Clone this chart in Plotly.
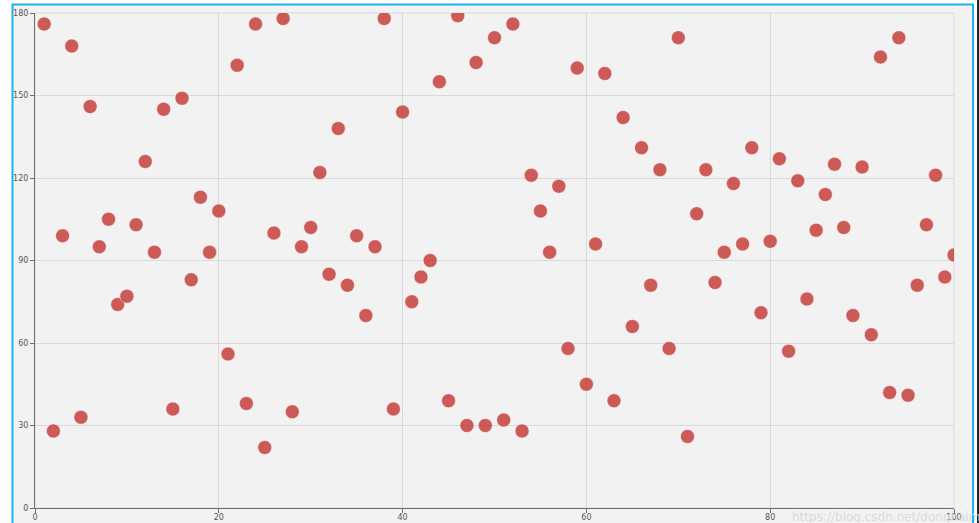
import plotly.graph_objects as go

x_values = list(range(1, 101))
y_values = [176, 28, 99, 168, 33, 146, 95, 105, 74, 77,
            103, 126, 93, 145, 36, 149, 83, 113, 93, 108,
            56, 161, 38, 176, 22, 100, 178, 35, 95, 102,
            122, 85, 138, 81, 99, 70, 95, 178, 36, 144,
            75, 84, 90, 155, 39, 179, 30, 162, 30, 171,
            32, 176, 28, 121, 108, 93, 117, 58, 160, 45,
            96, 158, 39, 142, 66, 131, 81, 123, 58, 171,
            26, 107, 123, 82, 93, 118, 96, 131, 71, 97,
            127, 57, 119, 76, 101, 114, 125, 102, 70, 124,
            63, 164, 42, 171, 41, 81, 103, 121, 84, 92]
x_ticks = [0, 20, 40, 60, 80, 100]
y_ticks = [0, 30, 60, 90, 120, 150, 180]

W, H = 979, 523
L, R, T, B = 35, 25, 13, 15
pw, ph = W - L - R, H - T - B


def px(x):
    return (x - L) / pw


def py(y):
    return (H - B - y) / ph


fig = go.Figure()
fig.add_trace(go.Scatter(
    x=x_values, y=y_values, mode="markers",
    marker=dict(size=14, color="rgba(194,53,49,0.8)",
                line=dict(color="rgba(255,255,255,0.5)", width=1)),
    hoverinfo="x+y", showlegend=False,
))

axis_common = dict(
    showgrid=True, gridcolor="#d9d9d9", gridwidth=1,
    zeroline=False, showline=True, linecolor="#6e6e6e", linewidth=1,
    ticks="outside", ticklen=4, tickcolor="#6e6e6e",
    tickfont=dict(family="DejaVu Sans", size=8, color="#555555"),
    fixedrange=True, automargin=False,
)

fig.update_layout(
    width=W, height=H,
    margin=dict(l=L, r=R, t=T, b=B, pad=0, autoexpand=False),
    paper_bgcolor="#f2f2f2", plot_bgcolor="#f2f2f2",
    xaxis=dict(range=[0, 100], tickvals=x_ticks, ticklabelstandoff=-3, **axis_common),
    yaxis=dict(range=[0, 180], tickvals=y_ticks, **axis_common),
    shapes=[
        dict(type="rect", xref="paper", yref="paper", x0=0, x1=1, y0=0, y1=1,
             line=dict(color="#d9d9d9", width=1), layer="below"),
        dict(type="rect", xref="paper", yref="paper", x0=px(-2), x1=px(11.5),
             y0=py(H + 5), y1=py(-5), fillcolor="white", line=dict(width=0), layer="above"),
        dict(type="rect", xref="paper", yref="paper", x0=px(-2), x1=px(W + 2),
             y0=py(4), y1=py(-5), fillcolor="white", line=dict(width=0), layer="above"),
        dict(type="rect", xref="paper", yref="paper", x0=px(973.5), x1=px(W + 2),
             y0=py(H + 5), y1=py(-5), fillcolor="white", line=dict(width=0), layer="above"),
        dict(type="rect", xref="paper", yref="paper", x0=px(12.5), x1=px(973),
             y0=py(H + 10), y1=py(4.5), line=dict(color="#1ab4ee", width=2), layer="above"),
        dict(type="line", xref="paper", yref="paper", x0=px(978), x1=px(978),
             y0=py(H + 5), y1=py(0), line=dict(color="#222222", width=2), layer="above"),
    ],
    annotations=[
        dict(text="https://blog.csdn.net/donghaiming111", xref="paper", yref="paper",
             x=px(790), y=py(517), xanchor="left", yanchor="middle", showarrow=False,
             font=dict(family="DejaVu Sans", size=12, color="rgba(215,215,215,0.9)")),
    ],
)

post = "document.body.style.margin='0';document.body.style.overflow='hidden';"

fig.write_html("out.html", config={"displayModeBar": False}, post_script=post)
